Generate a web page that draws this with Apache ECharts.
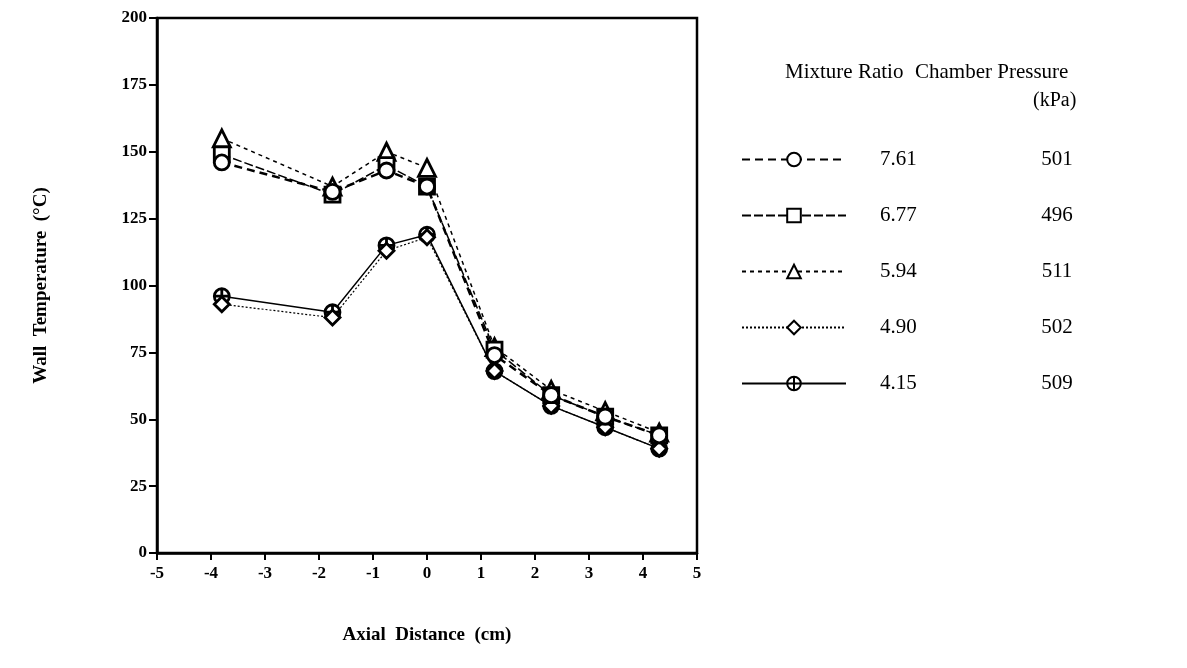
<!DOCTYPE html>
<html>
<head>
<meta charset="utf-8">
<script src="https://cdn.jsdelivr.net/npm/echarts@6/dist/echarts.min.js"></script>
<style>
  html, body { margin: 0; padding: 0; background: #fff; }
  #chart { width: 1187px; height: 668px; }
</style>
</head>
<body>
<div id="chart"></div>
<script>
// axial positions (cm)
const axialDistance = [-3.8, -1.75, -0.75, 0, 1.25, 2.3, 3.3, 4.3]

// wall temperature (°C) per mixture ratio
const mixtureRatios = ['7.61', '6.77', '5.94', '4.90', '4.15']
const chamberPressures = ['501', '496', '511', '502', '509']
const temp761 = [146, 135, 143, 137, 74, 59, 51, 44]
const temp677 = [149, 134, 145, 137, 76, 59, 51, 44]
const temp594 = [155, 137, 150, 144, 77, 61, 53, 45]
const temp490 = [93, 88, 113, 118, 68, 55, 47, 39]
const temp415 = [96, 90, 115, 119, 68, 55, 47, 39]

const xTicks = [-5, 5, 1]
const yTicks = [0, 200, 25]

const serif = '"Liberation Serif", "DejaVu Serif", serif'

// circle with a cross inside
const crossCircle = 'path://M0,-10A10,10,0,1,1,0,10A10,10,0,1,1,0,-10ZM-10,0L10,0M0,-10L0,10'

const styles = [
  { symbol: 'circle', size: 15, line: { type: [8, 5], width: 2.5 } },
  { symbol: 'rect', size: 15, line: { type: [9, 3], width: 1.5 } },
  { symbol: 'triangle', size: 17, line: { type: [4, 4], width: 1.5 } },
  { symbol: 'diamond', size: 15, line: { type: [2, 2], width: 1.2 } },
  { symbol: crossCircle, size: 15, line: { type: 'solid', width: 1.5 } }
]
const seriesData = [temp761, temp677, temp594, temp490, temp415]

const chart = echarts.init(document.getElementById('chart'))

const option = {
  animation: false,
  backgroundColor: '#fff',
  grid: {
    left: 157,
    right: 490,
    top: 18,
    bottom: 115,
    show: true,
    borderColor: '#000',
    borderWidth: 2.5
  },
  legend: {
    orient: 'vertical',
    left: 736,
    top: 144,
    itemWidth: 104,
    itemHeight: 17,
    itemGap: 35,
    data: mixtureRatios,
    formatter: name => {
      const i = mixtureRatios.indexOf(name)
      return '{r|' + name + '}{p|' + chamberPressures[i] + '}'
    },
    textStyle: {
      fontFamily: serif,
      fontSize: 21,
      color: '#000',
      rich: {
        r: { fontFamily: serif, fontSize: 21, width: 147, padding: [0, 0, 0, 29] },
        p: { fontFamily: serif, fontSize: 21, width: 60, align: 'center' }
      }
    }
  },
  graphic: [
    { type: 'text', left: 785, top: 62, style: { text: 'Mixture Ratio', font: '21px ' + serif, fill: '#000' } },
    { type: 'text', left: 915, top: 62, style: { text: 'Chamber Pressure', font: '21px ' + serif, fill: '#000' } },
    { type: 'text', left: 1033, top: 91, style: { text: '(kPa)', font: '20px ' + serif, fill: '#000' } }
  ],
  xAxis: {
    type: 'value',
    min: xTicks[0],
    max: xTicks[1],
    interval: xTicks[2],
    name: 'Axial  Distance  (cm)',
    nameLocation: 'middle',
    nameGap: 73,
    nameTextStyle: { fontFamily: serif, fontSize: 19, fontWeight: 'bold', color: '#000' },
    axisLine: { onZero: false, lineStyle: { color: '#000', width: 2.5 } },
    axisTick: { show: true, length: 7, lineStyle: { color: '#000', width: 2 } },
    axisLabel: { fontFamily: serif, fontSize: 17, fontWeight: 'bold', color: '#000', margin: 12 },
    splitLine: { show: false }
  },
  yAxis: {
    type: 'value',
    min: yTicks[0],
    max: yTicks[1],
    interval: yTicks[2],
    name: 'Wall  Temperature  (°C)',
    nameLocation: 'middle',
    nameGap: 106,
    nameRotate: 90,
    nameTextStyle: { fontFamily: serif, fontSize: 19, fontWeight: 'bold', color: '#000' },
    axisLine: { show: true, onZero: false, lineStyle: { color: '#000', width: 2.5 } },
    axisTick: { show: true, length: 8, lineStyle: { color: '#000', width: 2 } },
    axisLabel: { fontFamily: serif, fontSize: 17, fontWeight: 'bold', color: '#000', margin: 10 },
    splitLine: { show: false }
  },
  series: mixtureRatios.map((name, i) => ({
    name: name,
    type: 'line',
    data: axialDistance.map((x, j) => [x, seriesData[i][j]]),
    symbol: styles[i].symbol,
    symbolSize: styles[i].size,
    showAllSymbol: true,
    lineStyle: { color: '#000', type: styles[i].line.type, width: styles[i].line.width },
    itemStyle: { color: '#fff', borderColor: '#000', borderWidth: 2.8 },
    z: 10 - i
  }))
}

chart.setOption(option)
</script>
</body>
</html>
